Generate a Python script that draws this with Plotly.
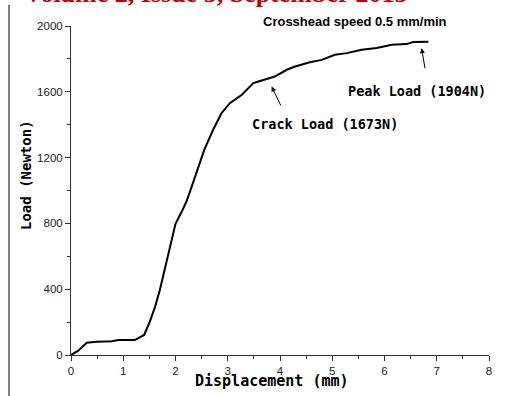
import plotly.graph_objects as go

displacement = [0, 0.14, 0.30, 0.49, 0.78, 0.91, 1.22, 1.40, 1.50, 1.61, 1.70, 1.77, 1.89,
                2.00, 2.12, 2.21, 2.31, 2.47, 2.55, 2.72, 2.88, 3.04, 3.27, 3.49, 3.71,
                3.90, 4.13, 4.29, 4.57, 4.80, 5.05, 5.28, 5.56, 5.85, 6.14, 6.42, 6.55, 6.84]
load = [0, 26, 75, 81, 83, 91, 91, 122, 196, 294, 395, 487, 639,
        797, 872, 933, 1024, 1166, 1247, 1369, 1470, 1531, 1582, 1653, 1677,
        1693, 1734, 1754, 1780, 1794, 1825, 1835, 1855, 1866, 1886, 1890, 1902, 1904]

x_ticks = [0, 1, 2, 3, 4, 5, 6, 7, 8]
y_ticks = [0, 400, 800, 1200, 1600, 2000]

mono = "DejaVu Sans Mono"

fig = go.Figure()
fig.add_trace(go.Scatter(x=displacement, y=load, mode="lines",
                         line=dict(color="black", width=2), showlegend=False,
                         cliponaxis=False))

fig.update_layout(
    width=512, height=396,
    margin=dict(l=71, r=23, t=26, b=41),
    paper_bgcolor="white", plot_bgcolor="white",
    xaxis=dict(range=[0, 8], tickvals=x_ticks, ticks="outside", ticklen=5,
               showline=True, linecolor="#333", linewidth=1, showgrid=False,
               zeroline=False, tickfont=dict(family="Liberation Sans", size=11.5, color="#222"),
               minor=dict(dtick=0.5, ticks="outside", ticklen=3, tickcolor="#333"),
               tickcolor="#333"),
    yaxis=dict(range=[0, 2000], tickvals=y_ticks, ticks="outside", ticklen=5,
               showline=True, linecolor="#333", linewidth=1, showgrid=False,
               zeroline=False, tickfont=dict(family="Liberation Sans", size=11.5, color="#222"),
               minor=dict(dtick=200, ticks="outside", ticklen=3, tickcolor="#333"),
               tickcolor="#333"),
)

# page margin line
fig.add_shape(type="line", xref="paper", yref="paper", x0=-0.1483, x1=-0.1483,
              y0=(355 - 5) / 329, y1=-0.13, line=dict(color="black", width=1))

# header (cut off at the top, as in the source page)
fig.add_annotation(text="Volume 2, Issue 3, September 2013", xref="paper", yref="paper",
                   x=(216 - 71) / 418, y=(355 + 6) / 329, xanchor="center", yanchor="middle",
                   showarrow=False,
                   font=dict(family="Liberation Serif", size=26, color="#c00000", weight="bold"))

fig.add_annotation(text="<b>Crosshead speed 0.5 mm/min</b>", xref="paper", yref="paper",
                   x=(355 - 71) / 418, y=(355 - 21.7) / 329, xanchor="center", yanchor="middle",
                   showarrow=False, font=dict(family="Liberation Sans", size=13, color="black"))

fig.add_annotation(text="<b>Displacement (mm)</b>", xref="paper", yref="paper",
                   x=(272 - 71) / 418, y=(355 - 381) / 329, xanchor="center", yanchor="middle",
                   showarrow=False, font=dict(family=mono, size=15, color="black"))
fig.add_annotation(text="<b>Load (Newton)</b>", xref="paper", yref="paper",
                   x=(26 - 71) / 418, y=(355 - 175) / 329, xanchor="center", yanchor="middle",
                   showarrow=False, textangle=-90,
                   font=dict(family=mono, size=14, color="black"))

fig.add_annotation(text="<b>Peak Load (1904N)</b>", x=6.62, y=1606, showarrow=False,
                   font=dict(family=mono, size=13.5, color="black"))
fig.add_annotation(text="<b>Crack Load (1673N)</b>", x=4.86, y=1405, showarrow=False,
                   font=dict(family=mono, size=13.5, color="black"))

# arrows
fig.add_annotation(x=6.71, y=1865, ax=6.78, ay=1734, axref="x", ayref="y", text="",
                   showarrow=True, arrowhead=2, arrowsize=1, arrowwidth=1, arrowcolor="black")
fig.add_annotation(x=3.84, y=1632, ax=4.03, ay=1507, axref="x", ayref="y", text="",
                   showarrow=True, arrowhead=2, arrowsize=1, arrowwidth=1, arrowcolor="black")

fig.write_html("out.html", config={"displayModeBar": False},
               post_script="document.body.style.margin='0';")
